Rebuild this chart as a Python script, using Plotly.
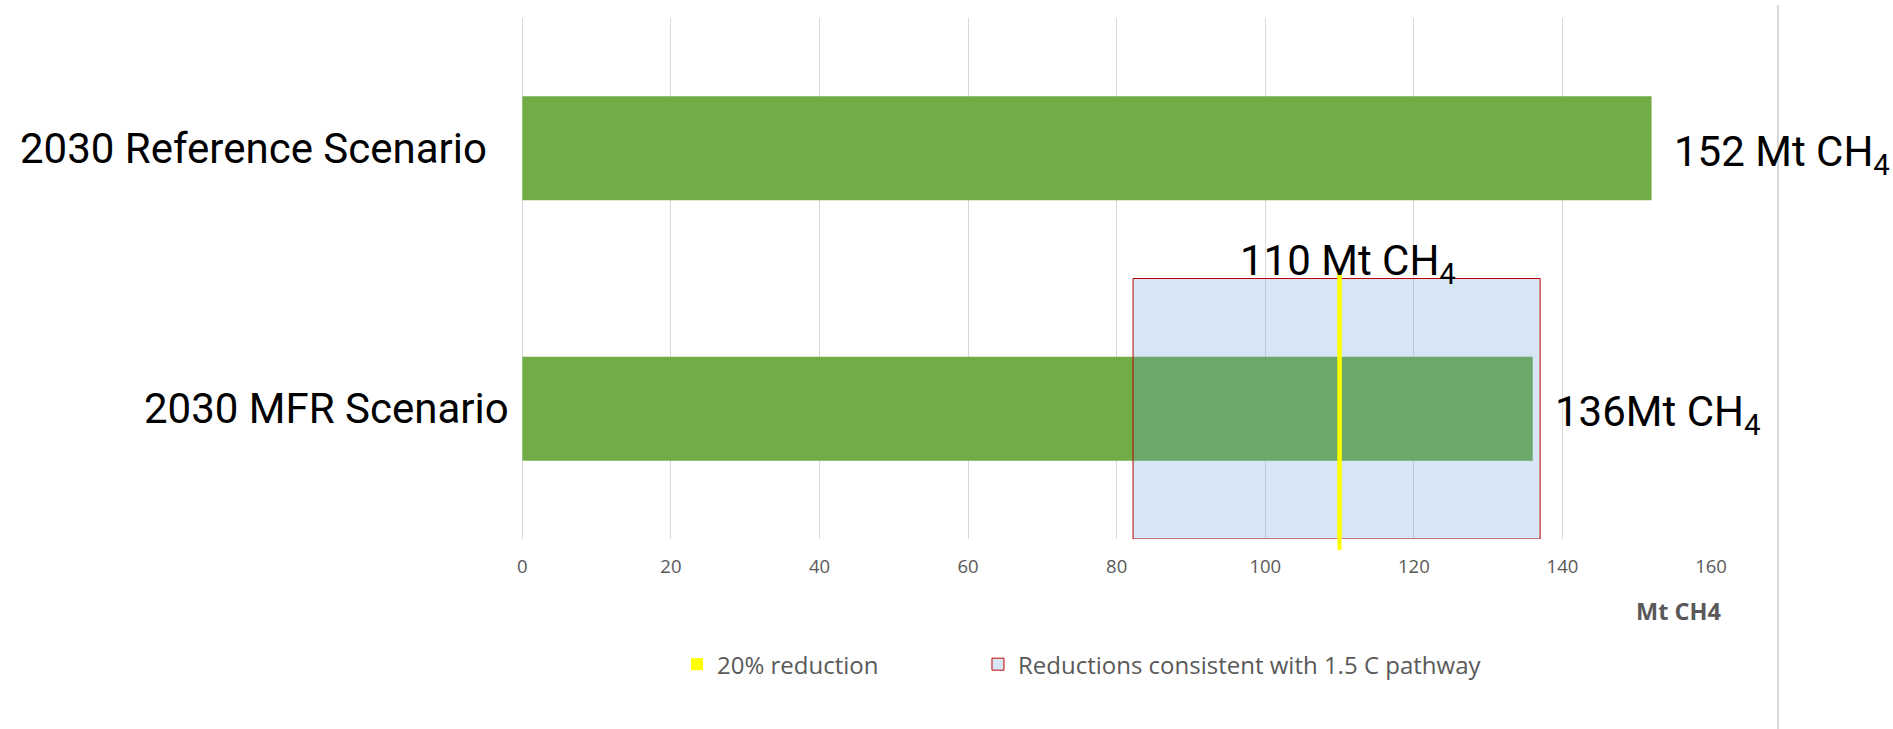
import plotly.graph_objects as go

# ---- data ----
categories = ["2030 MFR Scenario", "2030 Reference Scenario"]
emissions = [136, 152]
value_labels = ["136Mt CH<sub>4</sub>", "152 Mt CH<sub>4</sub>"]
target_20pct = 110
target_label = "110 Mt CH<sub>4</sub>"
pathway_low = 82.2
pathway_high = 137
x_ticks = [0, 20, 40, 60, 80, 100, 120, 140, 160]
legend_names = ["20% reduction", "Reductions consistent with 1.5 C pathway"]
axis_title = "Mt CH4"

GREEN = "#70AD47"
GRID = "#D9D9D9"
GREY_TXT = "#595959"
YELLOW = "#FFFF00"

fig = go.Figure()

# main bars
fig.add_trace(go.Bar(
    y=categories, x=emissions, orientation="h", width=0.4,
    marker=dict(color=GREEN, line=dict(width=0)),
    showlegend=False, hoverinfo="skip",
))

# pathway range box (semi-transparent, drawn over bars)
fig.add_trace(go.Bar(
    y=[categories[0]], x=[pathway_high - pathway_low], base=[pathway_low],
    orientation="h", width=1.0,
    marker=dict(color="rgba(91,155,213,0.25)", line=dict(color="#C00000", width=1)),
    name=legend_names[1], legend="legend2", cliponaxis=False, hoverinfo="skip",
))

# 20% reduction line (thin yellow bar)
fig.add_trace(go.Bar(
    y=[categories[0]], x=[0.54], base=[target_20pct - 0.27],
    orientation="h", width=1.075,
    marker=dict(color=YELLOW, line=dict(width=0)),
    name=legend_names[0], legend="legend", cliponaxis=False, hoverinfo="skip",
))

annotations = []
# category labels
cat_shift = [-11, -33]
for c, s in zip(categories, cat_shift):
    annotations.append(dict(
        x=0, y=c, xref="x", yref="y", text=c, showarrow=False,
        xanchor="right", yanchor="middle", xshift=s,
        font=dict(family="Roboto", size=42, color="#000000"),
    ))
# value labels
for c, v, t in zip(categories, emissions, value_labels):
    annotations.append(dict(
        x=v, y=c, xref="x", yref="y", text=t, showarrow=False,
        xanchor="left", yanchor="middle", xshift=20, yshift=-6,
        font=dict(family="Roboto", size=42, color="#000000"),
    ))
# 20% target label
annotations.append(dict(
    x=target_20pct, y=0.5, xref="x", yref="y", text=target_label, showarrow=False,
    xanchor="center", yanchor="bottom", xshift=8, yshift=-14,
    font=dict(family="Roboto", size=42, color="#000000"),
))
# axis title
annotations.append(dict(
    x=1.0105, y=-0.138, xref="paper", yref="paper", text="<b>" + axis_title + "</b>",
    showarrow=False, xanchor="right", yanchor="middle",
    font=dict(family="Open Sans", size=23.5, color=GREY_TXT),
))

legend_common = dict(
    orientation="h", y=-0.241, xanchor="left", yanchor="middle",
    font=dict(family="Open Sans", size=24, color=GREY_TXT),
    bgcolor="rgba(0,0,0,0)",
)

fig.update_layout(
    width=1893, height=729,
    margin=dict(l=522, r=182, t=18, b=190, pad=0),
    plot_bgcolor="white", paper_bgcolor="white",
    barmode="overlay",
    annotations=annotations,
    shapes=[
        dict(type="line", xref="paper", yref="paper",
             x0=1.0563, x1=1.0563, y0=-0.3647, y1=1.025,
             line=dict(color=GRID, width=2)),
        dict(type="line", xref="x", yref="paper", layer="above",
             x0=target_20pct, x1=target_20pct, y0=-0.0211, y1=0.5163,
             line=dict(color=YELLOW, width=4)),
    ],
    legend=dict(x=0.1304, **legend_common),
    legend2=dict(x=0.3835, **legend_common),
    xaxis=dict(
        range=[-0.05, 160], tickvals=x_ticks, ticktext=[str(t) for t in x_ticks],
        showgrid=True, gridcolor=GRID, gridwidth=1,
        zeroline=True, zerolinecolor=GRID, zerolinewidth=1, showline=False,
        ticks="", ticklabelstandoff=14,
        tickfont=dict(family="Open Sans", size=18.5, color=GREY_TXT),
    ),
    yaxis=dict(
        type="category", categoryorder="array", categoryarray=categories,
        range=[-0.5, 1.5], showticklabels=False, showgrid=False, zeroline=False,
        showline=False, ticks="",
    ),
)

fig.write_html("out.html")
